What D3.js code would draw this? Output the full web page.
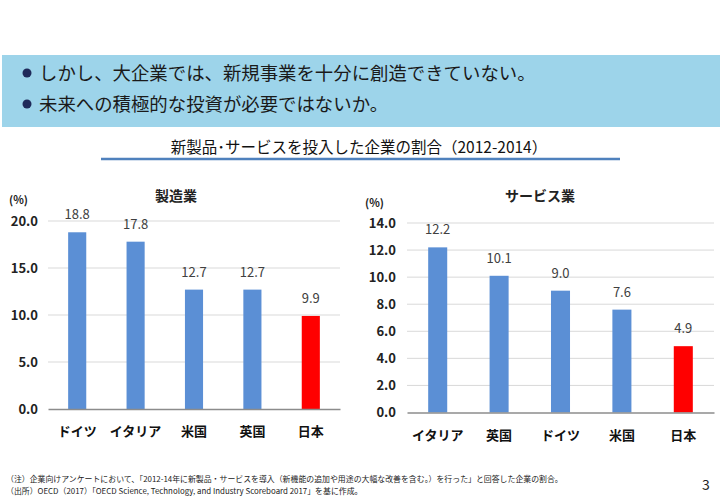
<!DOCTYPE html>
<html><head><meta charset="utf-8">
<script src="https://cdn.jsdelivr.net/npm/d3@7"></script>
<style>
html,body{margin:0;padding:0;background:#fff;}
svg{display:block;font-family:"Noto Sans CJK JP","Noto Sans",sans-serif;}
</style></head>
<body>
<svg id="c" width="720" height="498"></svg>
<script>
// Data
const mfgCategories = ["ドイツ","イタリア","米国","英国","日本"];
const mfgValues = [18.8, 17.8, 12.7, 12.7, 9.9];
const mfgTicks = [0, 5, 10, 15, 20];
const svcCategories = ["イタリア","英国","ドイツ","米国","日本"];
const svcValues = [12.2, 10.1, 9.0, 7.6, 4.9];
const svcTicks = [0, 2, 4, 6, 8, 10, 12, 14];
const bullets = ["しかし、大企業では、新規事業を十分に創造できていない。","未来への積極的な投資が必要ではないか。"];
const mainTitle = "新製品･サービスを投入した企業の割合（2012-2014）";
const notes = ["（注）企業向けアンケートにおいて、「2012-14年に新製品・サービスを導入（新機能の追加や用途の大幅な改善を含む。）を行った」と回答した企業の割合。",
               "（出所）OECD（2017）「OECD Science, Technology, and Industry Scoreboard 2017」を基に作成。"];

const svg = d3.select("#c");

// banner
svg.append("rect").attr("x",2).attr("y",55).attr("width",718).attr("height",72).attr("fill","#9dd4ea");
bullets.forEach((t,i)=>{
  const y = 73 + i*31;
  svg.append("circle").attr("cx",27).attr("cy",y).attr("r",4.5).attr("fill","#1f2a5a");
  svg.append("text").attr("x",39).attr("y",y).attr("dy","0.36em").attr("font-size",18.4).attr("fill","#1a1a1a").text(t);
});

// main title
svg.append("text").attr("x",359).attr("y",147).attr("dy","0.36em").attr("text-anchor","middle")
  .attr("font-size",15.5).attr("fill","#111").text(mainTitle);
svg.append("line").attr("x1",101).attr("x2",620).attr("y1",159).attr("y2",159)
  .attr("stroke","#4f81bd").attr("stroke-width",2.5);

function drawChart(o){
  const g = svg.append("g");
  const x = d3.scaleBand().domain(o.cats).range([o.x0,o.x1]).paddingInner(o.pad).paddingOuter(o.pad/2);
  const y = d3.scaleLinear().domain([0,o.max]).range([o.y0,o.yTop]);
  // grid
  g.selectAll(".grid").data(o.ticks.slice(1)).join("line")
    .attr("x1",o.x0).attr("x2",o.x1).attr("y1",d=>y(d)).attr("y2",d=>y(d))
    .attr("stroke","#d9d9d9").attr("stroke-width",1);
  // y axis labels
  const ya = d3.axisLeft(y).tickValues(o.ticks).tickFormat(d3.format(".1f")).tickSize(0).tickPadding(0);
  const yg = g.append("g").attr("transform",`translate(${o.labelX},0)`).call(ya);
  yg.select(".domain").remove();
  yg.selectAll("text").attr("font-size",13).attr("font-weight","bold").attr("fill","#222")
    .attr("font-family","'Noto Sans CJK JP','Noto Sans',sans-serif");
  // bars
  g.selectAll(".bar").data(o.vals).join("rect")
    .attr("x",(d,i)=>x(o.cats[i])).attr("width",x.bandwidth())
    .attr("y",d=>y(d)).attr("height",d=>o.y0-y(d))
    .attr("fill",(d,i)=>o.cats[i]==="日本"?"#ff0000":"#5b8fd5");
  // value labels
  g.selectAll(".vl").data(o.vals).join("text")
    .attr("x",(d,i)=>x(o.cats[i])+x.bandwidth()/2).attr("y",d=>y(d)-13)
    .attr("text-anchor","middle").attr("font-size",13).attr("fill","#404040")
    .text(d=>d3.format(".1f")(d));
  // x axis
  const xa = d3.axisBottom(x).tickSize(0).tickPadding(0);
  const xg = g.append("g").attr("transform",`translate(0,${o.y0})`).call(xa);
  xg.select(".domain").attr("stroke","#8c8c8c").attr("stroke-width",1.5);
  xg.selectAll("text").attr("font-size",13).attr("font-weight","bold").attr("fill","#111")
    .attr("dy",null).attr("y",o.catDy).attr("dominant-baseline","middle")
    .attr("font-family","'Noto Sans CJK JP','Noto Sans',sans-serif");
  // title & unit
  g.append("text").attr("x",o.titleX).attr("y",196).attr("dy","0.36em").attr("text-anchor","middle")
    .attr("font-size",14).attr("font-weight","bold").attr("fill","#222").text(o.title);
  g.append("text").attr("x",o.unitX).attr("y",o.unitY).attr("dy","0.36em")
    .attr("font-size",11).attr("font-weight","bold").attr("fill","#222").text("(%)");
}

drawChart({cats:mfgCategories, vals:mfgValues, ticks:mfgTicks, max:20,
  x0:48, x1:340, y0:409, yTop:221, pad:0.69, labelX:38, catDy:23,
  title:"製造業", titleX:176, unitX:9, unitY:200});
drawChart({cats:svcCategories, vals:svcValues, ticks:svcTicks, max:14,
  x0:407, x1:714, y0:412.5, yTop:223, pad:0.69, labelX:396, catDy:24,
  title:"サービス業", titleX:540, unitX:365, unitY:203});

// footnotes
notes.forEach((t,i)=>{
  svg.append("text").attr("x",6).attr("y",479+i*12).attr("dy","0.36em")
    .attr("font-size",7.9).attr("fill","#222").text(t);
});
svg.append("text").attr("x",706).attr("y",485).attr("dy","0.36em").attr("text-anchor","middle")
  .attr("font-size",14).attr("fill","#222").text("3");
</script>
</body></html>
